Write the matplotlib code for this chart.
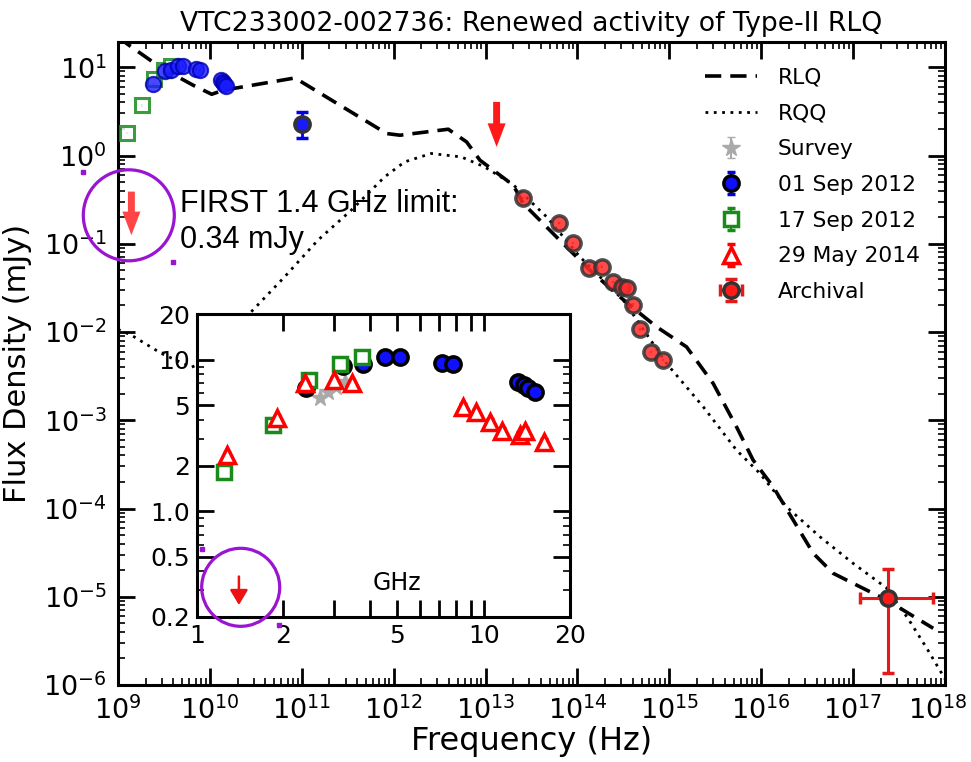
import matplotlib
matplotlib.use('Agg')
import matplotlib.pyplot as plt
import matplotlib.transforms as mtransforms
import numpy as np
from matplotlib.patches import Ellipse
from matplotlib.lines import Line2D
from matplotlib.ticker import FixedLocator, FixedFormatter, NullFormatter

# ---- data: frequency in GHz (radio) or Hz, flux density in mJy ----
sep01_ghz = [2.40, 3.24, 3.80, 4.52, 5.10, 7.13, 7.84, 13.2, 13.8, 14.3, 15.1]
sep01_mjy = [6.5, 9.1, 9.3, 10.4, 10.4, 9.5, 9.3, 7.1, 6.8, 6.5, 6.1]

mm_ghz = [100.0]
mm_mjy = [2.3]
mm_err_lo = [0.70]
mm_err_hi = [0.82]

sep17_ghz = [1.24, 1.84, 2.45, 3.15, 3.77]
sep17_mjy = [1.8, 3.7, 7.3, 9.4, 10.4]

may14_ghz = [1.27, 1.90, 2.38, 3.0, 3.46, 8.45, 9.4, 10.5, 11.6, 13.4, 13.9, 16.2]
may14_mjy = [2.34, 4.1, 7.0, 7.3, 7.0, 4.9, 4.5, 3.9, 3.4, 3.2, 3.4, 2.87]

survey_ghz = [2.68, 2.87, 3.05, 3.28]
survey_mjy = [5.6, 6.1, 6.6, 7.1]

arch_hz = [2.53e13, 6.34e13, 8.87e13, 1.35e14, 1.83e14, 2.41e14, 3.03e14,
           3.43e14, 3.98e14, 4.79e14, 6.31e14, 8.46e14]
arch_mjy = [0.331, 0.172, 0.102, 0.0525, 0.0548, 0.0371, 0.0325,
            0.0312, 0.0205, 0.0107, 0.00597, 0.00481]

xray_hz = [2.41e17]
xray_mjy = [9.8e-6]
xray_hz_lo = [1.19e17]
xray_hz_hi = [7.33e17]
xray_mjy_lo = [1.38e-6]
xray_mjy_hi = [2.05e-5]

# upper limits (arrow start / arrow tip)
limit_hz = [1.4e9, 1.32e13]
limit_top = [0.39, 4.05]
limit_tip = [0.125, 1.25]
first_ghz = 1.4
first_top = 0.37
first_tip = 0.24

# template SEDs (log10 Hz, log10 mJy)
rlq_logf = [9.0, 9.095, 9.457, 9.819, 10.02, 10.146, 10.926, 11.924, 12.069,
            12.594, 12.794, 12.939, 13.302, 13.410, 13.807, 14.136, 14.462,
            14.680, 14.861, 15.187, 15.477, 15.731, 15.912, 16.130, 16.348,
            16.566, 16.783, 17.074, 17.364, 17.872]
rlq_logs = [1.35, 1.268, 1.003, 0.796, 0.694, 0.740, 0.879, 0.249, 0.230,
            0.298, 0.154, -0.053, -0.336, -0.544, -0.959, -1.299, -1.601,
            -1.789, -1.941, -2.168, -2.582, -3.074, -3.451, -3.753, -4.130,
            -4.507, -4.734, -4.886, -5.036, -5.357]

rqq_logf = [9.0, 9.145, 9.471, 9.8, 10.1, 10.45, 10.813, 11.176, 11.539,
            11.902, 12.120, 12.409, 12.736, 12.990, 13.30, 13.665, 14.027,
            14.50, 14.97, 15.369, 15.731, 15.985, 16.275, 16.638, 17.0,
            17.364, 17.6, 17.8, 18.0]
rqq_logs = [-1.97, -2.035, -2.242, -2.40, -2.25, -1.771, -1.375, -0.959, -0.619,
            -0.242, -0.072, 0.023, -0.016, -0.129, -0.33, -0.695, -1.148,
            -1.639, -2.356, -2.847, -3.338, -3.601, -3.980, -4.319, -4.621,
            -4.90, -5.25, -5.58, -5.93]

inset_xticks = [1, 2, 3, 4, 5, 6, 7, 8, 9, 10, 20]
inset_xlabels = ['1', '2', '', '', '5', '', '', '', '', '10', '20']
inset_yticks = [0.2, 0.5, 1, 2, 5, 10, 20]
inset_ylabels = ['0.2', '0.5', '1.0', '2', '5', '10', '20']
inset_yminor = [0.3, 0.4, 0.6, 0.7, 0.8, 0.9, 3, 4, 6, 7, 8, 9]

purple = '#9a14d2'

fig = plt.figure(figsize=(9.71, 7.62), dpi=100)
ax = fig.add_axes([0.1215, 0.101, 0.8517, 0.8438])

ghz = 1e9
rlq, = ax.plot(10**np.array(rlq_logf), 10**np.array(rlq_logs), 'k--', lw=2.6, dashes=(4.5, 2.5))
rqq, = ax.plot(10**np.array(rqq_logf), 10**np.array(rqq_logs), color='k', ls=(0, (1, 2)), lw=2)

ax.errorbar(np.array(sep17_ghz) * ghz, sep17_mjy, yerr=0.03 * np.array(sep17_mjy), fmt='s',
            ms=10, mfc='white', mec='#1a8a1a', mew=2.2, ecolor='#1a8a1a', alpha=0.85, zorder=3)
ax.errorbar(np.array(sep01_ghz) * ghz, sep01_mjy, yerr=0.03 * np.array(sep01_mjy), fmt='o',
            ms=11, mfc='#1a1aff', mec='#0000b0', mew=1.5, ecolor='b', alpha=0.8, zorder=3)
ax.errorbar(np.array(mm_ghz) * ghz, mm_mjy, yerr=[mm_err_lo, mm_err_hi], fmt='o',
            ms=11, mfc='#1a1aff', mec='#333333', mew=2.5, ecolor='#0000e0',
            elinewidth=2, capsize=4, capthick=2, zorder=3)
ax.errorbar(arch_hz, arch_mjy, yerr=0.03 * np.array(arch_mjy), fmt='o', ms=11,
            mfc='#ff2a2a', mec='#333333', mew=2.5, ecolor='r', alpha=0.85, zorder=3)
arch = ax.errorbar(xray_hz, xray_mjy,
                   xerr=[np.array(xray_hz) - xray_hz_lo, np.array(xray_hz_hi) - xray_hz],
                   yerr=[np.array(xray_mjy) - xray_mjy_lo, np.array(xray_mjy_hi) - xray_mjy],
                   fmt='o', ms=11, mfc='#ff1a1a', mec='#333333', mew=2.5, ecolor='#e41a1a',
                   elinewidth=2.2, capsize=4, capthick=2.2, zorder=3)

for f, top, tip, c in zip(limit_hz, limit_top, limit_tip, ['#ff4545', '#ff1a1a']):
    ax.annotate('', xy=(f, tip), xytext=(f, top),
                arrowprops=dict(facecolor=c, edgecolor='none', width=5, headwidth=13,
                                headlength=17, shrink=0))

ax.set_xscale('log')
ax.set_yscale('log')
ax.set_xlim(1e9, 1e18)
ax.set_ylim(1e-6, 19.3)
ax.set_xticks([10.0**k for k in range(9, 19)])
ax.set_yticks([10.0**k for k in range(-6, 2)])
ax.tick_params(which='both', direction='in', top=True, right=True)
ax.tick_params(which='major', length=12, width=2, labelsize=19.5, pad=8)
ax.tick_params(which='minor', length=5, width=1.2)
for s in ax.spines.values():
    s.set_linewidth(2.2)
ax.set_xlabel('Frequency (Hz)', fontsize=23, labelpad=1)
ax.set_ylabel('Flux Density (mJy)', fontsize=22, labelpad=8)
ax.set_title('VTC233002-002736: Renewed activity of Type-II RLQ', fontsize=19.2, pad=8)

# ---- inset: zoom on the radio band ----
ins = fig.add_axes([0.2029, 0.1903, 0.3841, 0.3976])
sv = ins.errorbar(survey_ghz, survey_mjy, yerr=0.03 * np.array(survey_mjy), fmt='*', ms=13,
                  color='#aaaaaa', mec='#aaaaaa', ecolor='#aaaaaa', capsize=3, zorder=2)
b1 = ins.errorbar(sep01_ghz, sep01_mjy, yerr=0.03 * np.array(sep01_mjy), fmt='o', ms=11,
                  mfc='#1010ff', mec='k', mew=2.5, ecolor='#0000e0', capsize=3, capthick=2, zorder=3)
g1 = ins.errorbar(sep17_ghz, sep17_mjy, yerr=0.04 * np.array(sep17_mjy), fmt='s', ms=10,
                  mfc='white', mec='#1a8a1a', mew=2.5, ecolor='#1a8a1a', capsize=3,
                  capthick=2, zorder=4)
r1 = ins.errorbar(may14_ghz, may14_mjy, yerr=0.04 * np.array(may14_mjy), fmt='^', ms=11,
                  mfc='white', mec='#ff0000', mew=2.5, ecolor='#ff0000', capsize=3,
                  capthick=2, zorder=5)
ins.annotate('', xy=(first_ghz, first_tip), xytext=(first_ghz, first_top),
             arrowprops=dict(arrowstyle='-|>,head_length=0.5,head_width=0.3', color='#ee1111',
                             lw=1.8, mutation_scale=18, shrinkA=0, shrinkB=0))
ins.set_xscale('log')
ins.set_yscale('log')
ins.set_xlim(1, 20)
ins.set_ylim(0.2, 20)
ins.xaxis.set_major_locator(FixedLocator(inset_xticks))
ins.xaxis.set_major_formatter(FixedFormatter(inset_xlabels))
ins.xaxis.set_minor_locator(FixedLocator([]))
ins.xaxis.set_minor_formatter(NullFormatter())
ins.yaxis.set_major_locator(FixedLocator(inset_yticks))
ins.yaxis.set_major_formatter(FixedFormatter(inset_ylabels))
ins.yaxis.set_minor_locator(FixedLocator(inset_yminor))
ins.yaxis.set_minor_formatter(NullFormatter())
ins.tick_params(which='both', direction='in', top=True, right=True)
ins.tick_params(which='major', length=12, width=2, labelsize=18, pad=5)
ins.tick_params(which='minor', length=5, width=1.2)
for s in ins.spines.values():
    s.set_linewidth(2.2)
ins.text(0.536, 0.112, 'GHz', transform=ins.transAxes, ha='center', va='center', fontsize=17)

# ---- legend ----
ax.legend([rlq, rqq, sv, b1, g1, r1, arch],
          ['RLQ', 'RQQ', 'Survey', '01 Sep 2012', '17 Sep 2012', '29 May 2014', 'Archival'],
          loc='upper left', bbox_to_anchor=(0.7261, 0.911), bbox_transform=fig.transFigure,
          frameon=False, fontsize=15.7, handlelength=2.4, handletextpad=0.95,
          labelspacing=0.72, borderpad=0, borderaxespad=0, numpoints=1)

# ---- annotation of the FIRST limit ----
fig.text(0.1854, 0.7222, 'FIRST 1.4 GHz limit:', family='Liberation Sans', fontsize=22, va='baseline')
fig.text(0.1854, 0.6739, '0.34 mJy', family='Liberation Sans', fontsize=22, va='baseline')

circles = [((128.8, 215.3), 91), ((240.7, 587.3), 78)]
for (cx, cy), d in circles:
    fig.add_artist(Ellipse((cx / 971, 1 - cy / 762), d / 971, d / 762, transform=fig.transFigure,
                           fill=False, ec=purple, lw=2.3, zorder=10))
dots_x = [83, 173, 202, 279]
dots_y = [172, 262, 549, 625]
fig.add_artist(Line2D(np.array(dots_x) / 971, 1 - np.array(dots_y) / 762, transform=fig.transFigure,
                      ls='', marker='s', ms=2.5, color=purple, zorder=10))

# keep the last x tick label (10^18) inside the figure
last = ax.xaxis.get_major_ticks()[-1].label1
last.set_transform(last.get_transform() +
                   mtransforms.ScaledTranslation(-5 / 72, 0, fig.dpi_scale_trans))

fig.savefig('out.png', dpi=100)
